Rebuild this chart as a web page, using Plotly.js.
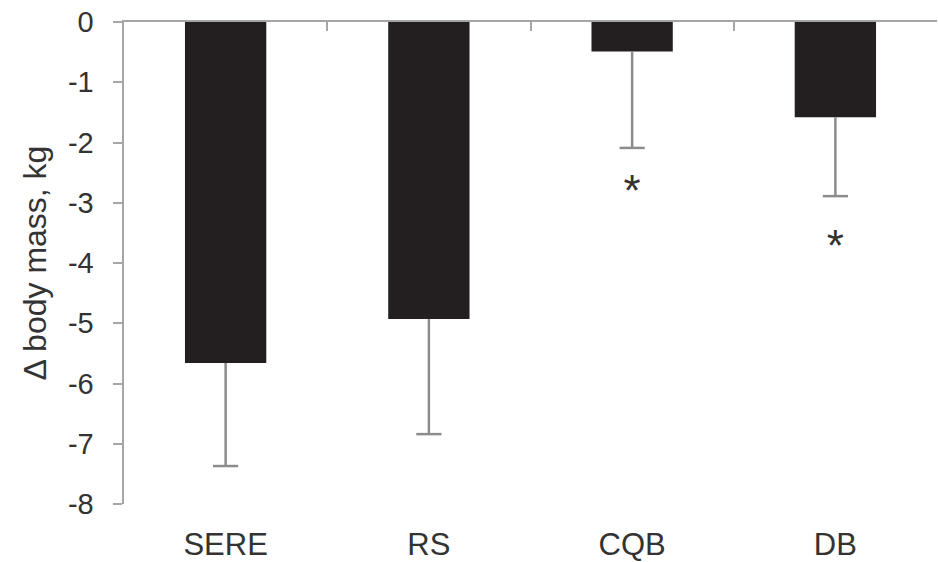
<!DOCTYPE html>
<html>
<head>
<meta charset="utf-8">
<script src="https://cdn.plot.ly/plotly-3.0.1.min.js"></script>
<style>
  html, body { margin: 0; padding: 0; background: #fff; }
  #chart { width: 938px; height: 562px; }
</style>
</head>
<body>
<div id="chart"></div>
<script>
// Change in body mass per group (kg), with the lower SD whisker
const groups = ['SERE', 'RS', 'CQB', 'DB'];
const meanChange = [-5.66, -4.93, -0.49, -1.58];
const sdLower = [1.71, 1.91, 1.60, 1.31];

// Significance markers placed under the whiskers
const sigGroups = ['CQB', 'DB'];
const sigY = [-2.87, -3.78];
const sigText = ['*', '*'];

const yTicks = [0, -1, -2, -3, -4, -5, -6, -7, -8];

const textColor = '#333333';
const axisGrey = '#a6a6a6';
const whiskerGrey = '#8c8c8c';

const bars = {
  type: 'bar',
  x: groups,
  y: meanChange,
  marker: { color: '#231f20', line: { width: 0 } },
  // whisker stems only; the end caps are drawn as markers below
  error_y: {
    type: 'data',
    symmetric: false,
    array: meanChange.map(() => 0),
    arrayminus: sdLower,
    color: whiskerGrey,
    thickness: 2.5,
    width: 0
  },
  hoverinfo: 'x+y',
  showlegend: false
};

const whiskerEnds = meanChange.map((m, i) => m - sdLower[i]);

const caps = {
  type: 'scatter',
  mode: 'markers',
  x: groups,
  y: whiskerEnds,
  marker: {
    symbol: 'line-ew',
    size: 18,
    color: whiskerGrey,
    line: { color: whiskerGrey, width: 2.5 }
  },
  hoverinfo: 'skip',
  showlegend: false
};

const stars = {
  type: 'scatter',
  mode: 'text',
  x: sigGroups,
  y: sigY,
  text: sigText,
  textposition: 'middle center',
  textfont: { family: 'Liberation Sans, Arial, sans-serif', size: 44, color: textColor },
  xaxis: 'x2',
  hoverinfo: 'skip',
  showlegend: false
};

const layout = {
  width: 938,
  height: 562,
  margin: { l: 124, r: 1, t: 22, b: 58 },
  paper_bgcolor: '#ffffff',
  plot_bgcolor: '#ffffff',
  bargap: 0.6,
  font: { family: 'Liberation Sans, Arial, sans-serif', color: textColor },
  xaxis: {
    type: 'category',
    categoryarray: groups,
    range: [-0.5, 3.5],
    showline: false,
    showgrid: false,
    zeroline: false,
    ticks: '',
    tickfont: { size: 31, color: textColor },
    ticklabelstandoff: 19
  },
  // zero line across the top with ticks between the groups
  xaxis2: {
    type: 'category',
    categoryarray: groups,
    range: [-0.5, 3.5],
    overlaying: 'x',
    side: 'top',
    showline: true,
    linecolor: axisGrey,
    linewidth: 2.5,
    showgrid: false,
    zeroline: false,
    ticks: 'inside',
    tickson: 'boundaries',
    ticklen: 9,
    tickwidth: 2,
    tickcolor: axisGrey,
    showticklabels: false
  },
  yaxis: {
    range: [-8, 0],
    tickvals: yTicks,
    ticktext: yTicks.map(v => v === 0 ? '0' : '-' + Math.abs(v)),
    showline: true,
    linecolor: axisGrey,
    linewidth: 2.5,
    showgrid: false,
    zeroline: false,
    ticks: 'outside',
    ticklen: 9,
    tickwidth: 2,
    tickcolor: axisGrey,
    tickfont: { size: 29, color: textColor },
    ticklabelstandoff: 13,
    title: {
      text: 'Δ body mass, kg',
      font: { size: 32, color: textColor },
      standoff: 12
    }
  }
};

Plotly.newPlot('chart', [bars, caps, stars], layout, { displayModeBar: false, staticPlot: true });
</script>
</body>
</html>
